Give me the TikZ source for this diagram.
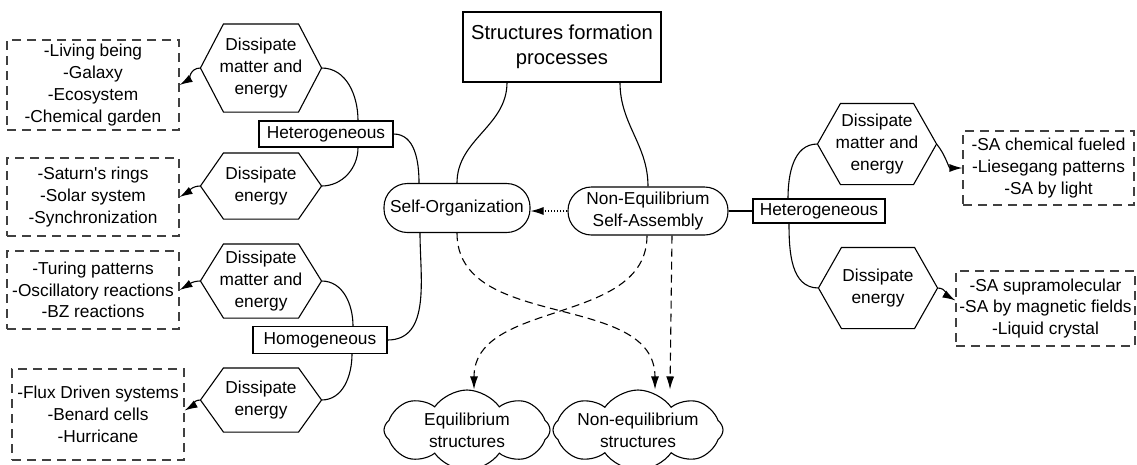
\documentclass[tikz,border=0pt]{standalone}
\usepackage{fontspec}
\setmainfont{Liberation Sans}
\usetikzlibrary{shapes.symbols, arrows.meta, calc}

\tikzset{
  box/.style={draw, rectangle, inner sep=0pt, align=center},
  hexa/.style={inner sep=0pt, align=center, minimum width=120pt},
  list/.style={draw=black!75, dash pattern=on 9pt off 6pt, inner sep=0pt, align=center},
  pill/.style={draw, rectangle, rounded corners=23.5pt, inner sep=0pt, align=center},
  cloudy/.style={draw, cloud, cloud puffs=8, cloud puff arc=110, cloud ignores aspect, inner sep=0pt, align=center},
  tip/.style={-{Latex[length=13pt, width=8pt]}},
  dashy/.style={tip, dash pattern=on 8pt off 5pt}
}

\begin{document}
\begin{tikzpicture}[x=1pt, y=-1pt, line width=1.1pt, font=\fontsize{17.3}{21.7}\selectfont]
\useasboundingbox (0,0) rectangle (1137,464);

% main processes
\node[box, minimum width=198pt, minimum height=70pt, font=\fontsize{20.2}{25}\selectfont] (top) at (562,47) {Structures formation\\processes};
\node[pill, minimum width=146pt, minimum height=49pt] (so) at (457,208) {Self-Organization};
\node[pill, minimum width=160pt, minimum height=48pt] (nesa) at (648,211) {Non-Equilibrium\\Self-Assembly};

% left branch
\node[box, minimum width=134pt, minimum height=26pt] (hetL) at (326,134) {Heterogeneous};
\node[box, minimum width=134pt, minimum height=27pt] (homo) at (320,340) {Homogeneous};
\node[hexa, minimum height=87pt] (hA) at (261,68) {Dissipate\\matter and\\energy};
\node[hexa, minimum height=65pt] (hB) at (261,186) {Dissipate\\energy};
\node[hexa, minimum height=73pt] (hC) at (261,281) {Dissipate\\matter and\\energy};
\node[hexa, minimum height=63pt] (hD) at (261,400) {Dissipate\\energy};
\node[list, minimum width=172pt, minimum height=90pt] (lA) at (93,85) {-Living being\\-Galaxy\\-Ecosystem\\-Chemical garden};
\node[list, minimum width=172pt, minimum height=78pt] (lB) at (93,197) {-Saturn\textquotesingle s rings\\-Solar system\\-Synchronization};
\node[list, minimum width=172pt, minimum height=78pt] (lC) at (93,290) {-Turing patterns\\-Oscillatory reactions\\-BZ reactions};
\node[list, minimum width=172pt, minimum height=91pt] (lD) at (98,414.5) {-Flux Driven systems\\-Benard cells\\-Hurricane};

% right branch
\node[box, minimum width=132pt, minimum height=24pt] (hetR) at (819,211) {Heterogeneous};
\node[hexa, minimum width=118pt, minimum height=80pt] (hE) at (877,144) {Dissipate\\matter and\\energy};
\node[hexa, minimum width=118pt, minimum height=80pt] (hF) at (878,288) {Dissipate\\energy};
\node[list, minimum width=171pt, minimum height=74pt] (lE) at (1048.5,168) {-SA chemical fueled\\-Liesegang patterns\\-SA by light};
\node[list, minimum width=179pt, minimum height=75pt] (lF) at (1045.5,308.5) {-SA supramolecular\\-SA by magnetic fields\\-Liquid crystal};

% structures
\node[cloudy, minimum width=166pt, minimum height=80pt] (cA) at (467,430) {Equilibrium\\structures};
\node[cloudy, minimum width=170pt, minimum height=80pt] (cB) at (638,430) {Non-equilibrium\\structures};

\foreach \h in {hA,hB,hC,hD,hE,hF}
  \draw (\h.west) -- ([xshift=23pt]\h.north west) -- ([xshift=-23pt]\h.north east) -- (\h.east)
    -- ([xshift=-23pt]\h.south east) -- ([xshift=23pt]\h.south west) -- cycle;

% connectors
\draw ([xshift=-55pt]top.south) to[out=-90,in=90] (so.north);
\draw ([xshift=58pt]top.south) to[out=-90,in=90] (nesa.north);
\draw (hetL.east) to[out=0,in=90] ([xshift=-38pt]so.north);
\draw (homo.east) to[out=0,in=-90] ([xshift=-37pt]so.south);
\draw (hA.east) to[out=0,in=90] ([xshift=32pt]hetL.north);
\draw (hB.east) to[out=0,in=-90] ([xshift=32pt]hetL.south);
\draw (hC.east) to[out=0,in=90] ([xshift=33pt]homo.north);
\draw (hD.east) to[out=0,in=-90] ([xshift=32pt]homo.south);
\draw (nesa.east) -- (hetR.west);
\draw ([xshift=-31pt]hetR.north) to[out=90,in=180] (hE.west);
\draw ([xshift=-30pt]hetR.south) to[out=-90,in=180] (hF.west);

\draw[tip] (hA.west) to[out=180,in=30] (lA.east);
\draw[tip] (hB.west) to[out=180,in=30] (lB.east);
\draw[tip] (hC.west) to[out=180,in=30] (lC.east);
\draw[tip] (hD.west) to[out=180,in=30] ([yshift=4pt]lD.east);
\draw[tip] (hE.east) to[out=-50,in=180] (lE.west);
\draw[tip] (hF.east) to[out=0,in=150] ([yshift=8pt]lF.west);

\draw[tip, dotted] (nesa.west) -- (nesa.west -| so.east);
\draw[dashy] (so.south) to[out=-90,in=90] ([xshift=17pt]cB.north);
\draw[dashy] ([xshift=-1pt]nesa.south) to[out=-90,in=90] ([xshift=7pt]cA.north);
\draw[dashy] ([xshift=24pt]nesa.south) -- ([xshift=32pt]cB.north);
\end{tikzpicture}
\end{document}
